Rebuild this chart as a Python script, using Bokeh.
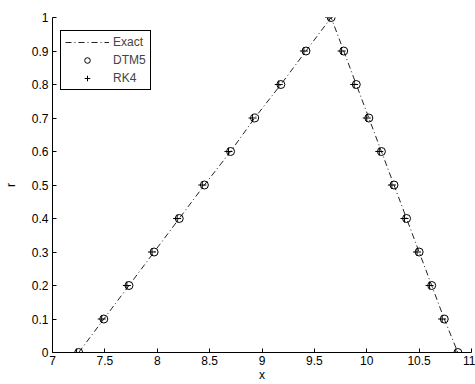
from bokeh.plotting import figure
from bokeh.models import FixedTicker, Legend, LegendItem, Range1d
from bokeh.embed import file_html
from bokeh.resources import INLINE

# Data
r_vals = [0.0, 0.1, 0.2, 0.3, 0.4, 0.5, 0.6, 0.7, 0.8, 0.9, 1.0,
          0.9, 0.8, 0.7, 0.6, 0.5, 0.4, 0.3, 0.2, 0.1, 0.0]
x_exact = [7.25, 7.49, 7.73, 7.97, 8.21, 8.45, 8.70, 8.93, 9.18, 9.42, 9.66,
           9.78, 9.90, 10.02, 10.14, 10.26, 10.38, 10.50, 10.62, 10.74, 10.87]
x_dtm5 = [7.25, 7.49, 7.73, 7.97, 8.21, 8.45, 8.70, 8.93, 9.18, 9.42, 9.66,
          9.78, 9.90, 10.02, 10.14, 10.26, 10.38, 10.50, 10.62, 10.74, 10.87]
x_rk4 = [7.23, 7.47, 7.71, 7.95, 8.19, 8.43, 8.68, 8.91, 9.16, 9.40, 9.64,
         9.76, 9.88, 10.00, 10.12, 10.24, 10.36, 10.48, 10.60, 10.72, 10.85]

x_ticks = [7, 7.5, 8, 8.5, 9, 9.5, 10, 10.5, 11]
x_tick_labels = ["7", "7.5", "8", "8.5", "9", "9.5", "10", "10.5", "11"]
y_ticks = [0, 0.1, 0.2, 0.3, 0.4, 0.5, 0.6, 0.7, 0.8, 0.9, 1]
y_tick_labels = ["0", "0.1", "0.2", "0.3", "0.4", "0.5", "0.6", "0.7", "0.8", "0.9", "1"]

FONT = "Liberation Sans"

p = figure(width=475, height=384, output_backend="svg", toolbar_location=None,
           x_range=Range1d(7, 11), y_range=Range1d(0, 1),
           min_border_left=48, min_border_right=4, min_border_top=17, min_border_bottom=32)
p.outline_line_color = None
p.grid.visible = False
p.background_fill_color = "white"
p.border_fill_color = "white"

for ax in (p.xaxis[0], p.yaxis[0]):
    ax.major_tick_in = 4
    ax.major_tick_out = 0
    ax.minor_tick_in = 0
    ax.minor_tick_out = 0
    ax.axis_line_color = "black"
    ax.major_tick_line_color = "black"
    ax.major_label_text_font = FONT
    ax.major_label_text_font_size = "12px"
    ax.major_label_text_color = "black"
    ax.axis_label_text_font = FONT
    ax.axis_label_text_font_size = "12px"
    ax.axis_label_text_font_style = "normal"
    ax.axis_label_text_color = "black"

p.xaxis.ticker = FixedTicker(ticks=x_ticks)
p.xaxis.major_label_overrides = {t: l for t, l in zip(x_ticks, x_tick_labels)}
p.yaxis.ticker = FixedTicker(ticks=y_ticks)
p.yaxis.major_label_overrides = {t: l for t, l in zip(y_ticks, y_tick_labels)}
p.xaxis.axis_label = "x"
p.yaxis.axis_label = "r"
p.xaxis.major_label_standoff = 3
p.xaxis.axis_label_standoff = 0
p.yaxis.major_label_standoff = 4
p.yaxis.axis_label_standoff = 11

l_exact = p.line(x_exact, r_vals, line_color="#222222", line_width=1, line_dash="6 3 1 3")
l_dtm = p.scatter(x_dtm5, r_vals, marker="circle", size=8, fill_color=None,
                  line_color="black", line_width=1)
l_rk = p.scatter(x_rk4, r_vals, marker="cross", size=8, line_color="black", line_width=1)

legend = Legend(items=[LegendItem(label="Exact", renderers=[l_exact]),
                       LegendItem(label="DTM5", renderers=[l_dtm]),
                       LegendItem(label="RK4", renderers=[l_rk])])
legend.margin = 0
legend.padding = 4
legend.spacing = 4
legend.glyph_width = 44
legend.glyph_height = 14
legend.label_height = 14
legend.label_standoff = 4
legend.label_text_font = FONT
legend.label_text_font_size = "12px"
legend.border_line_color = "black"
legend.border_line_width = 1
legend.border_line_alpha = 1
legend.background_fill_alpha = 1
legend.background_fill_color = "white"
p.add_layout(legend)
legend.location = (8, 262)

open("out.html", "w").write(file_html(p, INLINE))
